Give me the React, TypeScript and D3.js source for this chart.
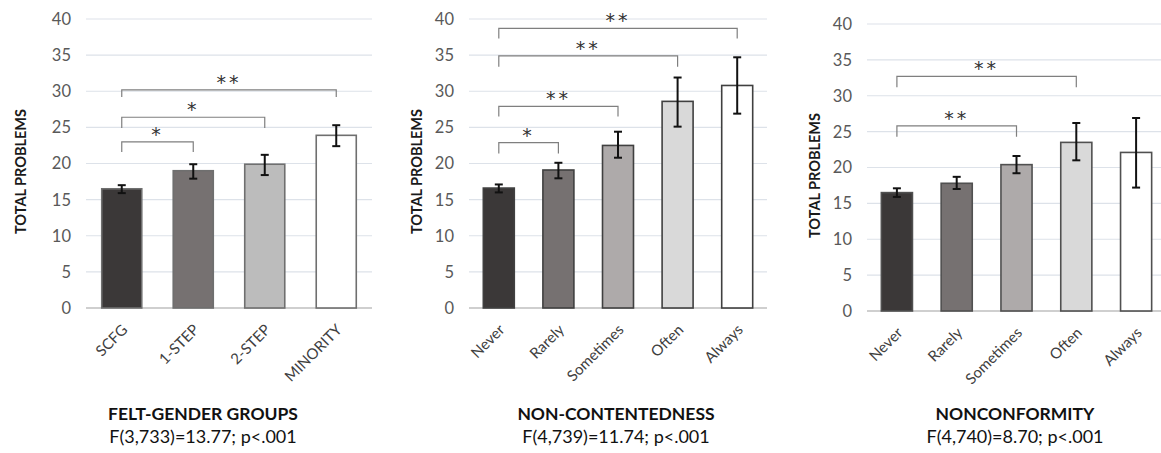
import React from "react";
import * as d3 from "d3";

// felt-gender groups
const feltCategories = ["SCFG", "1-STEP", "2-STEP", "MINORITY"];
const feltMeans = [16.5, 19.0, 19.9, 23.9];
const feltLow = [15.9, 17.9, 18.4, 22.4];
const feltHigh = [17.0, 19.9, 21.2, 25.3];
// [from, to, bracket top, leg bottom, label]
const feltBrackets: [number, number, number, number, string][] = [
  [0, 1, 23.0, 21.6, "*"],
  [0, 2, 26.4, 24.9, "*"],
  [0, 3, 30.2, 29.2, "**"],
];

// non-contentedness
const freqCategories = ["Never", "Rarely", "Sometimes", "Often", "Always"];
const contMeans = [16.6, 19.1, 22.5, 28.6, 30.8];
const contLow = [16.0, 17.95, 20.8, 25.1, 26.9];
const contHigh = [17.1, 20.1, 24.4, 31.9, 34.7];
const contBrackets: [number, number, number, number, string][] = [
  [0, 1, 22.9, 21.4, "*"],
  [0, 2, 27.9, 26.5, "**"],
  [0, 3, 34.9, 33.4, "**"],
  [0, 4, 38.7, 37.3, "**"],
];

// nonconformity
const confMeans = [16.5, 17.8, 20.4, 23.5, 22.1];
const confLow = [15.9, 17.0, 19.2, 21.0, 17.2];
const confHigh = [17.1, 18.7, 21.6, 26.2, 26.9];
const confBrackets: [number, number, number, number, string][] = [
  [0, 2, 25.8, 24.3, "**"],
  [0, 3, 32.7, 31.2, "**"],
];

const yTicks = [0, 5, 10, 15, 20, 25, 30, 35, 40];

const fills4 = ["#3b3838", "#767171", "#bcbcbc", "#ffffff"];
const fills5 = ["#3b3838", "#767171", "#aeaaaa", "#d9d9d9", "#ffffff"];

const FONT = "Lato, 'Open Sans', sans-serif";

interface PanelProps {
  categories: string[];
  means: number[];
  low: number[];
  high: number[];
  brackets: [number, number, number, number, string][];
  fills: string[];
  left: number;
  right: number;
  yTop: number;
  yBottom: number;
  padding: number;
  yLabelX: number;
  titleX: number;
  title: string;
  stat: string;
  barStroke: string;
}

const Panel: React.FC<PanelProps> = (p) => {
  const x = d3
    .scaleBand<string>()
    .domain(p.categories)
    .range([p.left, p.right])
    .paddingInner(p.padding)
    .paddingOuter(p.padding / 2);
  const y = d3.scaleLinear().domain([0, 40]).range([p.yBottom, p.yTop]);
  const cx = (i: number) => (x(p.categories[i]) || 0) + x.bandwidth() / 2;
  const cap = 4;

  return (
    <g>
      {/* gridlines */}
      {yTicks.map((t) => (
        <line
          key={"g" + t}
          x1={p.left}
          x2={p.right}
          y1={y(t)}
          y2={y(t)}
          stroke={t === 0 ? "#bfbfbf" : "#dde2e9"}
          strokeWidth={t === 0 ? 1.5 : 1.2}
        />
      ))}
      {yTicks.map((t) => (
        <text
          key={"t" + t}
          x={p.left - 15}
          y={y(t)}
          dy="0.36em"
          textAnchor="end"
          fontSize={16.5}
          fill="#595959"
        >
          {t}
        </text>
      ))}
      <text
        transform={`translate(${p.yLabelX},${(p.yTop + p.yBottom) / 2 + 8}) rotate(-90)`}
        textAnchor="middle"
        dy="0.35em"
        fontSize={14.5}
        fontWeight="bold"
        fill="#1a1a1a"
      >
        TOTAL PROBLEMS
      </text>

      {/* bars */}
      {p.categories.map((c, i) => (
        <rect
          key={"b" + c}
          x={x(c)}
          y={y(p.means[i])}
          width={x.bandwidth()}
          height={y(0) - y(p.means[i])}
          fill={p.fills[i]}
          stroke={p.barStroke}
          strokeWidth={1.6}
        />
      ))}

      {/* error bars */}
      {p.categories.map((c, i) => (
        <g key={"e" + c} stroke="#111" strokeWidth={2}>
          <line x1={cx(i)} x2={cx(i)} y1={y(p.high[i])} y2={y(p.low[i])} />
          <line x1={cx(i) - cap} x2={cx(i) + cap} y1={y(p.high[i])} y2={y(p.high[i])} />
          <line x1={cx(i) - cap} x2={cx(i) + cap} y1={y(p.low[i])} y2={y(p.low[i])} />
        </g>
      ))}

      {/* significance brackets */}
      {p.brackets.map(([a, b, top, leg, label], k) => {
        const x1 = cx(a);
        const x2 = cx(b);
        return (
          <g key={"k" + k}>
            <path
              d={`M${x1},${y(leg)}V${y(top)}H${x2}V${y(leg)}`}
              fill="none"
              stroke="#7f7f7f"
              strokeWidth={1.2}
            />
            <text
              transform={`translate(${(x1 + x2) / 2},${y(top) - 1}) rotate(0.01)`}
              textAnchor="middle"
              fontSize={19}
              fontFamily="'DejaVu Sans', sans-serif"
              letterSpacing={3}
              fill="#333"
            >
              {label}
            </text>
          </g>
        );
      })}

      {/* category labels */}
      {p.categories.map((c, i) => (
        <text
          key={"l" + c}
          transform={`translate(${cx(i) + 3},${p.yBottom + 19}) rotate(-45)`}
          textAnchor="end"
          dy="0.35em"
          fontSize={15}
          fill="#404040"
        >
          {c}
        </text>
      ))}

      <text x={p.titleX} y={420} textAnchor="middle" fontSize={17.5} fontWeight="bold" fill="#111">
        {p.title}
      </text>
      <text x={p.titleX} y={443} textAnchor="middle" fontSize={18} fill="#111">
        {p.stat}
      </text>
    </g>
  );
};

const App: React.FC = () => {
  return (
    <svg
      width={1161}
      height={453}
      style={{ position: "absolute", left: 0, top: 0, background: "#fff", fontFamily: FONT }}
    >
      <Panel
        categories={feltCategories}
        means={feltMeans}
        low={feltLow}
        high={feltHigh}
        brackets={feltBrackets}
        fills={fills4}
        left={86}
        right={372}
        yTop={19}
        yBottom={308}
        padding={0.44}
        yLabelX={21}
        titleX={203}
        title="FELT-GENDER GROUPS"
        stat="F(3,733)=13.77; p<.001"
        barStroke="#6f6f6f"
      />
      <Panel
        categories={freqCategories}
        means={contMeans}
        low={contLow}
        high={contHigh}
        brackets={contBrackets}
        fills={fills5}
        left={469}
        right={767}
        yTop={19}
        yBottom={308}
        padding={0.48}
        yLabelX={417}
        titleX={616}
        title="NON-CONTENTEDNESS"
        stat="F(4,739)=11.74; p<.001"
        barStroke="#404040"
      />
      <Panel
        categories={freqCategories}
        means={confMeans}
        low={confLow}
        high={confHigh}
        brackets={confBrackets}
        fills={fills5}
        left={867}
        right={1166}
        yTop={24}
        yBottom={311}
        padding={0.48}
        yLabelX={815}
        titleX={1015}
        title="NONCONFORMITY"
        stat="F(4,740)=8.70; p<.001"
        barStroke="#505050"
      />
    </svg>
  );
};

export default App;
